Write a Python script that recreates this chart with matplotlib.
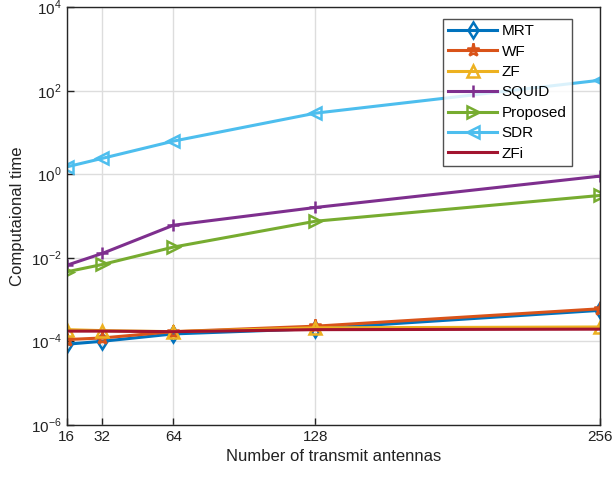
import matplotlib
matplotlib.use("Agg")
import matplotlib.pyplot as plt
from matplotlib.ticker import FixedLocator, NullLocator

plt.rcParams['font.family'] = ['Liberation Sans', 'DejaVu Sans']
plt.rcParams['mathtext.fontset'] = 'custom'
plt.rcParams['mathtext.rm'] = 'Liberation Sans'

antennas = [16, 32, 64, 128, 256]
mrt = [8.5e-5, 1.0e-4, 1.5e-4, 2.0e-4, 5.5e-4]
wf = [1.1e-4, 1.2e-4, 1.7e-4, 2.3e-4, 6.0e-4]
zf = [1.9e-4, 1.8e-4, 1.7e-4, 2.1e-4, 2.2e-4]
squid = [0.0066, 0.0127, 0.06, 0.16, 0.9]
proposed = [0.0046, 0.0069, 0.018, 0.075, 0.31]
sdr = [1.5, 2.4, 6.2, 29, 178]
zfi = [1.75e-4, 1.75e-4, 1.7e-4, 1.9e-4, 1.95e-4]

series = [
    ("MRT", mrt, "#0072BD", "d"),
    ("WF", wf, "#D95319", "*"),
    ("ZF", zf, "#EDB120", "^"),
    ("SQUID", squid, "#7E2F8E", "+"),
    ("Proposed", proposed, "#77AC30", ">"),
    ("SDR", sdr, "#4DBEEE", "<"),
    ("ZFi", zfi, "#A2142F", None),
]

fig = plt.figure(figsize=(6.12, 4.8), dpi=100)
ax = fig.add_axes([0.109, 0.115, 0.871, 0.870])

for name, vals, col, mk in series:
    kw = dict(color=col, linewidth=2.2, label=name)
    if mk is not None:
        kw.update(marker=mk, markersize=8.5 if mk != "*" else 9.5,
                  markerfacecolor='none', markeredgecolor=col, markeredgewidth=1.8)
    ax.plot(antennas, vals, **kw)

ax.set_yscale('log')
ax.set_xlim(16, 256)
ax.set_ylim(1e-6, 1e4)
ax.xaxis.set_major_locator(FixedLocator(antennas))
ax.set_xticklabels([str(a) for a in antennas])
ax.yaxis.set_major_locator(FixedLocator([1e-6, 1e-4, 1e-2, 1e0, 1e2, 1e4]))
ax.yaxis.set_minor_locator(NullLocator())
ax.set_yticklabels([r'$10^{%d}$' % e for e in [-6, -4, -2, 0, 2, 4]])
ax.grid(True, color='#dddddd', linewidth=1.0)
ax.set_axisbelow(True)
ax.tick_params(direction='in', labelsize=11, length=5, width=1, colors='#222222')
for s in ax.spines.values():
    s.set_color('#262626')
    s.set_linewidth(1.0)

ax.set_xlabel("Number of transmit antennas", fontsize=12, color='#222222')
ax.set_ylabel("Computaional time", fontsize=12, color='#222222')

leg = ax.legend(loc='upper right', bbox_to_anchor=(0.948, 0.972), fontsize=11,
                frameon=True, fancybox=False, edgecolor='#262626',
                handlelength=3.2, borderpad=0.35, labelspacing=0.42, handletextpad=0.3,
                borderaxespad=0.0)
leg.get_frame().set_linewidth(1.0)

fig.savefig("out.png", dpi=100)
